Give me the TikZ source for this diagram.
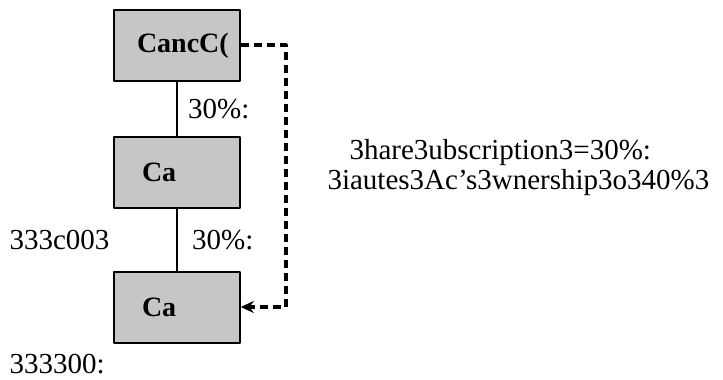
\documentclass[tikz,border=0pt]{standalone}
\usepackage{fontspec}
\setmainfont{Liberation Serif}
\usetikzlibrary{arrows.meta}
\tikzset{
  firmbox/.style = {draw, line width = 1.6pt, fill = gray!45, minimum width = 126, minimum height = 71, text width = 80, align = left, font = \fontsize{28}{32}\selectfont\bfseries},
  pctlabel/.style = {anchor = west, font = \fontsize{29}{32}\selectfont},
  sidetext/.style = {anchor = west, font = \fontsize{29}{32}\selectfont},
  indirect/.style = {line width = 3.2pt, dash pattern = on 8pt off 5pt, -{Stealth[length = 13pt, width = 12pt]}}
}
\begin{document}
\begin{tikzpicture}[line join = round, >=Stealth, x = 1pt, y = -1pt]
			\useasboundingbox (0,0) rectangle (723,380);
			%Các công ty
			\node[firmbox] (top) at (177,45.5) {CancC(};
			\node[firmbox] (mid) at (177,172.5) {\hspace*{5pt}Ca};
			\node[firmbox] (bot) at (177,307.5) {\hspace*{5pt}Ca};
			%Đường sở hữu
			\draw[line width = 1.6pt] (top)--(mid) node[pos = 0.5, pctlabel, xshift = 7pt] (p1) {30\%:};
			\draw[line width = 1.6pt] (mid)--(bot) node[pos = 0.5, pctlabel, xshift = 11pt] (p2) {30\%:};
			%Đường gián tiếp
			\coordinate (c1) at (286,45);
			\coordinate (c2) at (286,307);
			\draw[indirect] (top.east |- c1)--(c1)--(c2)--(bot.east |- c2);
			%Chú thích
			\node[sidetext] (l1) at (6,240) {333c003};
			\node[sidetext] (l2) at (6,364) {333300:};
			\node[sidetext] (s1) at (346,153) {3hare3ubscription3=30\%:};
			\node[sidetext] (s2) at (324,183) {3iautes3Ac's3wnership3o340\%3};
		\end{tikzpicture}
\end{document}
